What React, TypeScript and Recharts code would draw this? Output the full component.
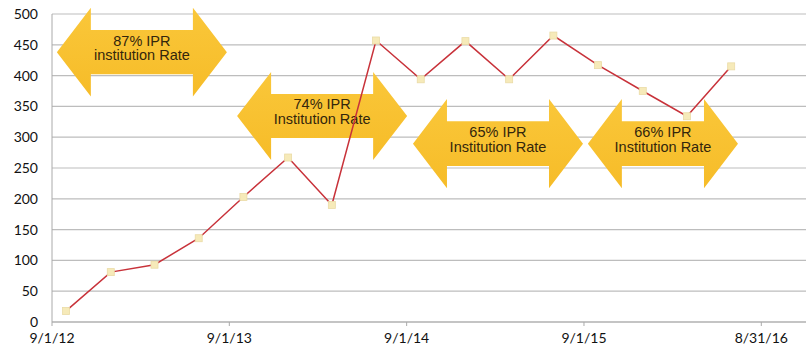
import { CartesianGrid, Line, LineChart, ReferenceArea, XAxis, YAxis } from "recharts";

const dates = [
  "2012-09-30", "2012-12-31", "2013-03-31", "2013-06-30",
  "2013-09-30", "2013-12-31", "2014-03-31", "2014-06-30",
  "2014-09-30", "2014-12-31", "2015-03-31", "2015-06-30",
  "2015-09-30", "2015-12-31", "2016-03-31", "2016-06-30",
];
const counts = [18, 81, 93, 136, 203, 267, 190, 457, 394, 456, 394, 465, 417, 375, 334, 415];
const xTicks = ["2012-09-01", "2013-09-01", "2014-09-01", "2015-09-01", "2016-08-31"];
const xEnd = "2016-12-01";
const yTicks = [0, 50, 100, 150, 200, 250, 300, 350, 400, 450, 500];

// arrows: [from, to, bottom value, top value, line1, line2]
const arrows: [string, string, number, number, string, string][] = [
  ["2012-09-11", "2013-08-27", 366, 510, "87% IPR", "institution Rate"],
  ["2013-09-17", "2014-09-02", 263, 406, "74% IPR", "Institution Rate"],
  ["2014-09-14", "2015-08-30", 217, 362, "65% IPR", "Institution Rate"],
  ["2015-09-09", "2016-07-14", 217, 362, "66% IPR", "Institution Rate"],
];

const ts = (s: string) => new Date(s + "T00:00:00Z").getTime();

const data = dates.map((d, i) => ({ t: ts(d), v: counts[i] }));

const fmt = (t: number) => {
  const d = new Date(t);
  return `${d.getUTCMonth() + 1}/${d.getUTCDate()}/${String(d.getUTCFullYear()).slice(2)}`;
};

const Dot = (p: any) => (
  <rect
    key={p.index}
    x={p.cx - 3.5}
    y={p.cy - 3.5}
    width={7}
    height={7}
    fill="#F6EAB9"
    stroke="#EADBA6"
    strokeWidth={0.8}
  />
);

const arrowShape = (l1: string, l2: string) => (p: any) => {
  const { x, y, width: w, height: h } = p;
  const hl = 34;
  const s1 = y + h * 0.25;
  const s2 = y + h * 0.75;
  const cy = y + h / 2;
  const cx = x + w / 2;
  const d = [
    `M${x},${cy}`,
    `L${x + hl},${y}`,
    `L${x + hl},${s1}`,
    `L${x + w - hl},${s1}`,
    `L${x + w - hl},${y}`,
    `L${x + w},${cy}`,
    `L${x + w - hl},${y + h}`,
    `L${x + w - hl},${s2}`,
    `L${x + hl},${s2}`,
    `L${x + hl},${y + h}`,
    "Z",
  ].join(" ");
  return (
    <g>
      <path d={d} fill="url(#gold)" />
      <text
        x={cx}
        textAnchor="middle"
        fontFamily="'Liberation Sans', Arial, sans-serif"
        fontSize={14.5}
        fill="#33260c"
      >
        <tspan x={cx} y={cy - 11.5} dominantBaseline="central">{l1}</tspan>
        <tspan x={cx} y={cy + 3} dominantBaseline="central">{l2}</tspan>
      </text>
    </g>
  );
};

const tickStyle = { fontSize: 14, fill: "#111", fontFamily: "Lato, 'DejaVu Sans', sans-serif" };

export default function App() {
  return (
    <div style={{ position: "absolute", left: 0, top: 0, background: "#fff" }}>
      <LineChart
        width={811}
        height={358}
        data={data}
        margin={{ top: 14, right: 5, left: 0, bottom: 0 }}
      >
        <defs>
          <linearGradient id="gold" x1="0" y1="0" x2="0" y2="1">
            <stop offset="0%" stopColor="#FAC73A" />
            <stop offset="100%" stopColor="#F6BC28" />
          </linearGradient>
        </defs>
        <CartesianGrid vertical={false} stroke="#BDBDBD" strokeWidth={1.2} />
        <XAxis
          dataKey="t"
          type="number"
          scale="linear"
          domain={[ts(xTicks[0]), ts(xEnd)]}
          ticks={xTicks.map(ts)}
          tickFormatter={fmt}
          stroke="#AAAAAA"
          tickSize={4}
          tickMargin={7}
          height={36}
          tick={tickStyle}
        />
        <YAxis
          domain={[0, 500]}
          ticks={yTicks}
          width={52}
          stroke="#AAAAAA"
          tickLine={false}
          tickSize={6}
          tickMargin={8}
          tick={tickStyle}
        />
        <Line
          dataKey="v"
          stroke="#C8323A"
          strokeWidth={1.5}
          dot={Dot}
          activeDot={false}
          isAnimationActive={false}
        />
        {arrows.map(([a, b, lo, hi, l1, l2]) => (
          <ReferenceArea
            key={l1}
            x1={ts(a)}
            x2={ts(b)}
            y1={lo}
            y2={hi}
            ifOverflow="visible"
            shape={arrowShape(l1, l2)}
          />
        ))}
      </LineChart>
    </div>
  );
}
